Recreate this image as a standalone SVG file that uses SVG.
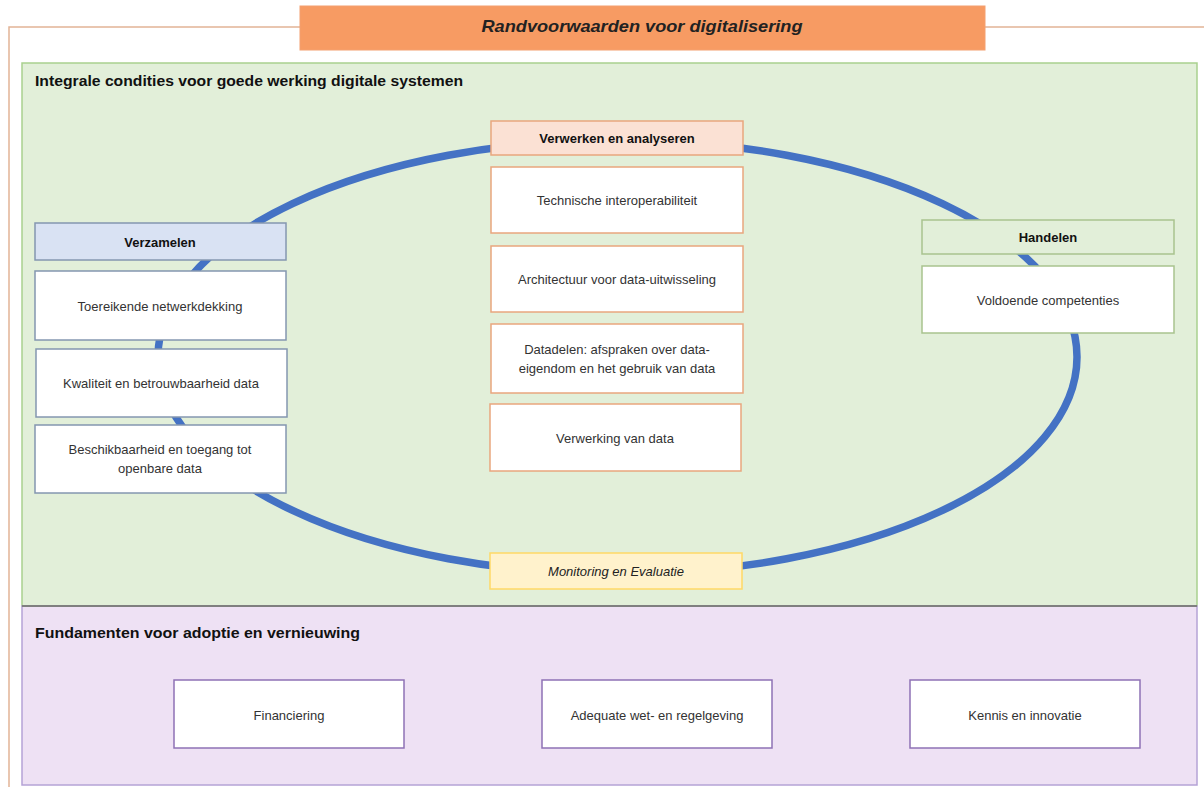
<svg xmlns="http://www.w3.org/2000/svg" width="1204" height="787" viewBox="0 0 1204 787">
<style>
text{font-family:"Liberation Sans",Arial,sans-serif;fill:#333;text-anchor:middle;dominant-baseline:central}
.t{font-size:13px}
.b{font-size:13px;font-weight:bold;fill:#111}
.h{font-size:15px;font-weight:bold;fill:#111;text-anchor:start}
.orange{fill:#fff;stroke:#E9A67E;stroke-width:1.5}
.blue{fill:#fff;stroke:#8497B0;stroke-width:1.5}
.green{fill:#fff;stroke:#A9C38E;stroke-width:1.5}
.purple{fill:#fff;stroke:#8E72B5;stroke-width:1.5}
</style>
<rect width="1204" height="787" fill="#fff"/>
<!-- outer frame -->
<path d="M1204 27 H9 V787" fill="none" stroke="#E2B497" stroke-width="1.5"/>
<g id="title">
<rect x="300" y="6" width="685" height="44" fill="#F79B63" stroke="#F4A070"/>
<text x="642" y="26" textLength="321" lengthAdjust="spacingAndGlyphs" style="font-size:17px;font-weight:bold;font-style:italic;fill:#222">Randvoorwaarden voor digitalisering</text>
</g>
<g id="panel-integrale">
<rect x="22" y="63" width="1175" height="543" fill="#E2EFD9" stroke="#A9D18E" stroke-width="1.5"/>
<text class="h" x="35" y="80" textLength="428" lengthAdjust="spacingAndGlyphs">Integrale condities voor goede werking digitale systemen</text>
</g>
<g id="panel-fundamenten">
<rect x="22" y="606" width="1175" height="179" fill="#EEE1F4" stroke="#B5A3D6" stroke-width="1.5"/>
<line x1="22" y1="606" x2="1197" y2="606" stroke="#7F7F7F" stroke-width="2"/>
<text class="h" x="35" y="632" textLength="325" lengthAdjust="spacingAndGlyphs">Fundamenten voor adoptie en vernieuwing</text>
</g>
<g id="connectors">
<ellipse cx="617.5" cy="357" rx="459.5" ry="217" fill="none" stroke="#4472C4" stroke-width="7.5"/>
</g>
<g id="verwerken">
<rect x="491" y="121" width="252" height="34" fill="#FBE1D4" stroke="#E9A67E" stroke-width="1.5"/>
<text class="b" x="617" y="138">Verwerken en analyseren</text>
</g>
<g id="technische">
<rect class="orange" x="491" y="167" width="252" height="66"/>
<text class="t" x="617" y="200">Technische interoperabiliteit</text>
</g>
<g id="architectuur">
<rect class="orange" x="491" y="246" width="252" height="66"/>
<text class="t" x="617" y="279">Architectuur voor data-uitwisseling</text>
</g>
<g id="datadelen">
<rect class="orange" x="491" y="324" width="252" height="69"/>
<text class="t" x="617" y="349">Datadelen: afspraken over data-</text>
<text class="t" x="617" y="368">eigendom en het gebruik van data</text>
</g>
<g id="verwerking">
<rect class="orange" x="490" y="404" width="251" height="67"/>
<text class="t" x="615" y="438">Verwerking van data</text>
</g>
<g id="monitoring">
<rect x="490" y="553" width="252" height="36" fill="#FFF2CC" stroke="#FFD966" stroke-width="1.5"/>
<text class="t" x="616" y="571" style="font-style:italic;fill:#222">Monitoring en Evaluatie</text>
</g>
<g id="verzamelen">
<rect x="35" y="223" width="251" height="37" fill="#D9E2F3" stroke="#8497B0" stroke-width="1.5"/>
<text class="b" x="160" y="242">Verzamelen</text>
</g>
<g id="toereikende">
<rect class="blue" x="35" y="271" width="251" height="69"/>
<text class="t" x="160" y="306">Toereikende netwerkdekking</text>
</g>
<g id="kwaliteit">
<rect class="blue" x="36" y="349" width="251" height="68"/>
<text class="t" x="161" y="383">Kwaliteit en betrouwbaarheid data</text>
</g>
<g id="beschikbaarheid">
<rect class="blue" x="35" y="425" width="251" height="68"/>
<text class="t" x="160" y="449">Beschikbaarheid en toegang tot</text>
<text class="t" x="160" y="468">openbare data</text>
</g>
<g id="handelen">
<rect x="922" y="220" width="252" height="34" fill="#E2EFD9" stroke="#A9C38E" stroke-width="1.5"/>
<text class="b" x="1048" y="237">Handelen</text>
</g>
<g id="voldoende">
<rect class="green" x="922" y="266" width="252" height="67"/>
<text class="t" x="1048" y="300">Voldoende competenties</text>
</g>
<g id="financiering">
<rect class="purple" x="174" y="680" width="230" height="68"/>
<text class="t" x="289" y="715">Financiering</text>
</g>
<g id="wetgeving">
<rect class="purple" x="542" y="680" width="230" height="68"/>
<text class="t" x="657" y="715">Adequate wet- en regelgeving</text>
</g>
<g id="kennis">
<rect class="purple" x="910" y="680" width="230" height="68"/>
<text class="t" x="1025" y="715">Kennis en innovatie</text>
</g>
</svg>
